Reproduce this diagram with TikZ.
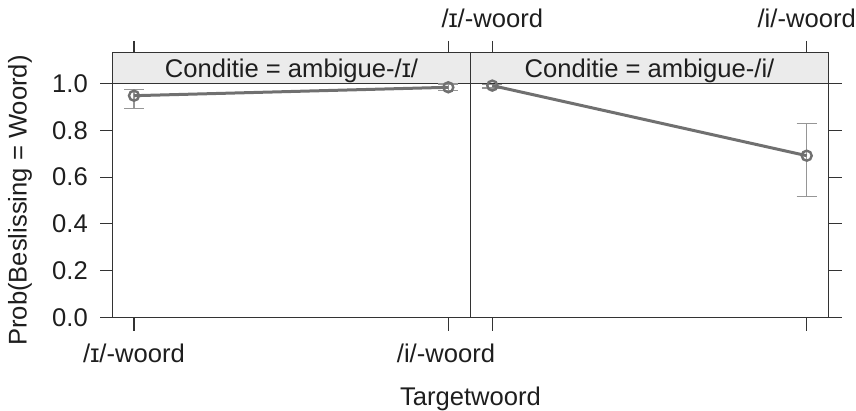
\documentclass[tikz,border=0pt]{standalone}
\usepackage{fontspec}
\setmainfont{Liberation Sans}
\definecolor{framegrey}{RGB}{51,51,51}
\definecolor{stripgrey}{RGB}{235,235,235}
\definecolor{linegrey}{RGB}{112,112,112}
\definecolor{bargrey}{RGB}{150,150,150}
\definecolor{textgrey}{RGB}{30,30,30}
\begin{document}
\begin{tikzpicture}[x=1pt,y=1pt,yscale=-1,xscale=1,
  frame/.style={draw=framegrey,line width=1.3pt},
  tick/.style={draw=framegrey,line width=1.1pt},
  lbl/.style={inner sep=0pt,text=textgrey,font=\fontsize{25.6}{30}\selectfont},
  errbar/.style={draw=bargrey,line width=1.5pt},
  fitline/.style={draw=linegrey,line width=3pt},
  dot/.style={draw=linegrey,line width=2.4pt}]
\useasboundingbox (0,0) rectangle (856,411);

%Shape: Rectangle (strips)
\draw [frame,fill=stripgrey] (112.3,52.3) rectangle (470.7,83.3);
\draw [frame,fill=stripgrey] (470.7,52.3) rectangle (828.3,83.3);
%Shape: Rectangle (panels)
\draw [frame] (112.3,83.3) rectangle (470.7,317.7);
\draw [frame] (470.7,83.3) rectangle (828.3,317.7);

%Straight Lines (y ticks, left and right)
\foreach \y/\t [count=\i] in {317.7/0.0,270.8/0.2,223.9/0.4,177.1/0.6,130.2/0.8,83.3/1.0}{
  \draw [tick] (100,\y) -- (112.3,\y);
  \draw [tick] (828.3,\y) -- (841.7,\y);
  \node [lbl,anchor=east] (ylab\i) at (88,\y) {\t};
}
%Straight Lines (x ticks, top and bottom)
\foreach \x in {134,448.3,492.3,806.7}{
  \draw [tick] (\x,41) -- (\x,52.3);
  \draw [tick] (\x,317.7) -- (\x,330.7);
}

% Text Node
\node [lbl,anchor=base] (stripA) at (291.5,77.5) {Conditie = ambigue-/ɪ/};
% Text Node
\node [lbl,anchor=base] (stripB) at (649.5,77.5) {Conditie = ambigue-/i/};
% Text Node
\node [lbl,anchor=base] (topA) at (492.3,28) {/ɪ/-woord};
% Text Node
\node [lbl,anchor=base] (topB) at (806.7,28) {/i/-woord};
% Text Node
\node [lbl,anchor=base] (botA) at (134,362.5) {/ɪ/-woord};
% Text Node
\node [lbl,anchor=base] (botB) at (446,362.5) {/i/-woord};
% Text Node
\node [lbl,anchor=base] (xtitle) at (470.5,405) {Targetwoord};
% Text Node
\node [lbl,anchor=base,rotate=90] (ytitle) at (26.5,200.5) {Prob(Beslissing = Woord)};

% estimates
\coordinate (a1) at (134,95.7);
\coordinate (a2) at (448.3,87.3);
\coordinate (b1) at (492.3,85.6);
\coordinate (b2) at (806.7,155.7);

%Straight Lines (error bars)
\foreach \x/\lo/\hi in {134/108.4/89.4,448.3/90.5/84.2,492.3/88/84.4,806.7/196.7/123.7}{
  \draw [errbar] (\x,\lo) -- (\x,\hi);
  \draw [errbar] (\x-10,\lo) -- (\x+10,\lo);
  \draw [errbar] (\x-10,\hi) -- (\x+10,\hi);
}
%Straight Lines (fitted)
\draw [fitline] (a1) -- (a2);
\draw [fitline] (b1) -- (b2);
%Shape: Circle
\foreach \p in {a1,a2,b1,b2}
  \draw [dot] (\p) circle (5);
\end{tikzpicture}
\end{document}
